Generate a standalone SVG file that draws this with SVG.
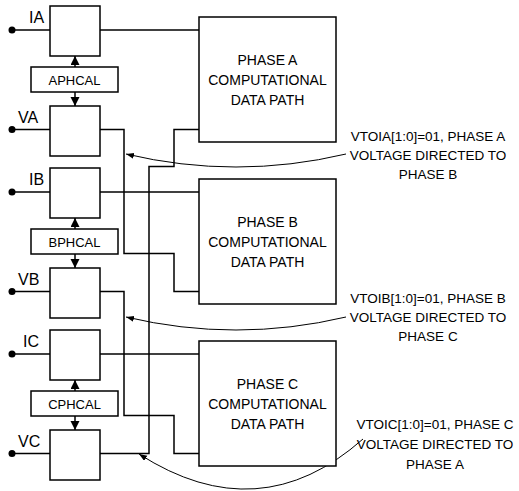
<svg xmlns="http://www.w3.org/2000/svg" width="519" height="491" viewBox="0 0 519 491">
<style>
.box{fill:#fff;stroke:#000;stroke-width:1.5}
.ln{fill:none;stroke:#000;stroke-width:1.5}
.cv{fill:none;stroke:#000;stroke-width:1}
.dot{fill:#000}
text{font-family:"Liberation Sans",Arial,sans-serif;fill:#000}
.lbl{font-size:16px}
.cal{font-size:13px;text-anchor:middle}
.ph{font-size:14px;text-anchor:middle}
.note{font-size:13.5px;text-anchor:middle}
</style>
<defs>
<marker id="ah" markerUnits="userSpaceOnUse" markerWidth="10" markerHeight="10" refX="9" refY="4.5" orient="auto">
<path d="M0,0 L9,4.5 L0,9 z" fill="#000"/>
</marker>
<marker id="sa" markerUnits="userSpaceOnUse" markerWidth="9" markerHeight="7" refX="8" refY="3" orient="auto">
<path d="M0,0 L8,3 L0,6 z" fill="#000"/>
</marker>
</defs>
<g id="connectors">
<line class="ln" x1="12" y1="30" x2="50" y2="30"/>
<line class="ln" x1="100" y1="30" x2="199" y2="30"/>
<line class="ln" x1="12" y1="192" x2="50" y2="192"/>
<line class="ln" x1="100" y1="192" x2="199" y2="192"/>
<line class="ln" x1="12" y1="354" x2="50" y2="354"/>
<line class="ln" x1="100" y1="354" x2="199" y2="354"/>
<line class="ln" x1="12" y1="129.5" x2="50" y2="129.5"/>
<line class="ln" x1="12" y1="291.5" x2="50" y2="291.5"/>
<line class="ln" x1="12" y1="453.5" x2="50" y2="453.5"/>
<path class="ln" d="M100,129.5 H124 V253.5 H174 V291.5 H199"/>
<path class="ln" d="M100,291.5 H124 V415.5 H174 V453.5 H199"/>
<path class="ln" d="M100,453.5 H149 V166.5 H174 V129.5 H199"/>
<line class="ln" x1="75" y1="67" x2="75" y2="56" marker-end="url(#ah)"/>
<line class="ln" x1="75" y1="92" x2="75" y2="106" marker-end="url(#ah)"/>
<line class="ln" x1="75" y1="229" x2="75" y2="218" marker-end="url(#ah)"/>
<line class="ln" x1="75" y1="254" x2="75" y2="268" marker-end="url(#ah)"/>
<line class="ln" x1="75" y1="391" x2="75" y2="380" marker-end="url(#ah)"/>
<line class="ln" x1="75" y1="416" x2="75" y2="430" marker-end="url(#ah)"/>
<path class="cv" d="M346,154 Q236,180 126,154" marker-end="url(#sa)"/>
<path class="cv" d="M346,317 Q236,343 126,317" marker-end="url(#sa)"/>
<path class="cv" d="M363,439 Q259,531 139,454" marker-end="url(#sa)"/>
<circle class="dot" cx="12" cy="30" r="3.5"/>
<circle class="dot" cx="12" cy="129.5" r="3.5"/>
<circle class="dot" cx="12" cy="192" r="3.5"/>
<circle class="dot" cx="12" cy="291.5" r="3.5"/>
<circle class="dot" cx="12" cy="354" r="3.5"/>
<circle class="dot" cx="12" cy="453.5" r="3.5"/>
</g>
<g id="IA"><rect class="box" x="50" y="6" width="50" height="50"/><text class="lbl" x="29" y="23">IA</text></g>
<g id="VA"><rect class="box" x="50" y="106" width="50" height="50"/><text class="lbl" x="18" y="123">VA</text></g>
<g id="IB"><rect class="box" x="50" y="168" width="50" height="50"/><text class="lbl" x="29" y="185">IB</text></g>
<g id="VB"><rect class="box" x="50" y="268" width="50" height="50"/><text class="lbl" x="18" y="285">VB</text></g>
<g id="IC"><rect class="box" x="50" y="330" width="50" height="50"/><text class="lbl" x="23" y="347">IC</text></g>
<g id="VC"><rect class="box" x="50" y="430" width="50" height="50"/><text class="lbl" x="18" y="447">VC</text></g>
<g id="APHCAL"><rect class="box" x="31" y="67" width="87" height="25"/><text class="cal" x="74.5" y="84.5">APHCAL</text></g>
<g id="BPHCAL"><rect class="box" x="31" y="229" width="87" height="25"/><text class="cal" x="74.5" y="246.5">BPHCAL</text></g>
<g id="CPHCAL"><rect class="box" x="31" y="391" width="87" height="25"/><text class="cal" x="74.5" y="408.5">CPHCAL</text></g>
<g id="phaseA"><rect class="box" x="199" y="17" width="137" height="125"/>
<text class="ph" x="267.5" y="65">PHASE A</text><text class="ph" x="267.5" y="85">COMPUTATIONAL</text><text class="ph" x="267.5" y="104.5">DATA PATH</text></g>
<g id="phaseB"><rect class="box" x="199" y="179" width="137" height="125"/>
<text class="ph" x="267.5" y="227">PHASE B</text><text class="ph" x="267.5" y="247">COMPUTATIONAL</text><text class="ph" x="267.5" y="266.5">DATA PATH</text></g>
<g id="phaseC"><rect class="box" x="199" y="341" width="137" height="125"/>
<text class="ph" x="267.5" y="389">PHASE C</text><text class="ph" x="267.5" y="409">COMPUTATIONAL</text><text class="ph" x="267.5" y="428.5">DATA PATH</text></g>
<g id="noteA"><text class="note" x="428" y="141">VTOIA[1:0]=01, PHASE A</text><text class="note" x="428" y="160">VOLTAGE DIRECTED TO</text><text class="note" x="428" y="179">PHASE B</text></g>
<g id="noteB"><text class="note" x="428" y="303">VTOIB[1:0]=01, PHASE B</text><text class="note" x="428" y="322">VOLTAGE DIRECTED TO</text><text class="note" x="428" y="341">PHASE C</text></g>
<g id="noteC"><text class="note" x="435" y="429">VTOIC[1:0]=01, PHASE C</text><text class="note" x="435" y="449">VOLTAGE DIRECTED TO</text><text class="note" x="435" y="469">PHASE A</text></g>
</svg>
